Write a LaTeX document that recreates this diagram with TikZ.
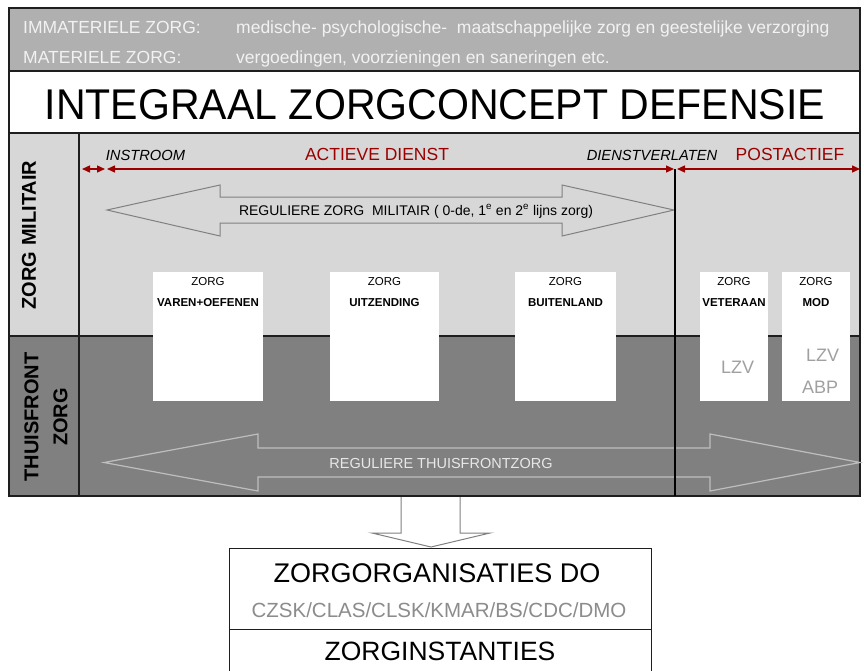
\documentclass[tikz,border=0pt]{standalone}
\usepackage{fontspec}
\setmainfont{Liberation Sans}
\newfontfamily\titlefont[FakeStretch=0.955]{Liberation Sans}
\usetikzlibrary{arrows.meta}
\definecolor{topgray}{RGB}{176,176,176}
\definecolor{lightbg}{RGB}{215,215,215}
\definecolor{darkbg}{RGB}{128,128,128}
\definecolor{framec}{RGB}{30,30,30}
\definecolor{darkred}{RGB}{155,0,0}
\definecolor{toptext}{RGB}{242,242,242}
\definecolor{arrowgray}{RGB}{128,128,128}
\definecolor{tfarrow}{RGB}{190,190,190}
\definecolor{tftext}{RGB}{232,232,232}
\definecolor{lzvgray}{RGB}{160,160,160}
\definecolor{orggray}{RGB}{140,140,140}
\newcommand\fsz[1]{\fontsize{#1}{#1}\selectfont}
\begin{document}
\begin{tikzpicture}[x=1pt,y=-1pt,
  lbl/.style={inner sep=0pt, anchor=base},
  lblw/.style={inner sep=0pt, anchor=base west},
  frameline/.style={draw=framec, line width=1.2pt},
  zorgbox/.style={fill=white, inner sep=0pt, anchor=north west, minimum height=129pt},
  phase/.style={draw=darkred, line width=1.4pt, {Triangle[length=8pt,width=7pt]}-{Triangle[length=8pt,width=7pt]}},
  blockarrow/.style={draw=arrowgray, line width=1pt},
  tfblock/.style={draw=tfarrow, line width=1.2pt},
  boxhead/.style={lbl, font=\fsz{11.5}},
  boxname/.style={lbl, font=\fsz{11.5}\bfseries},
  lzv/.style={lbl, font=\fsz{18}, text=lzvgray},
]
\useasboundingbox (0,0) rectangle (864,670);
\clip (0,0) rectangle (864,670);
\fill[white] (0,0) rectangle (864,670);

% bands
\fill[topgray] (9,8) rectangle (860,71);
\fill[white] (9,71) rectangle (860,133);
\fill[lightbg] (9,133) rectangle (860,336);
\fill[darkbg] (9,336) rectangle (860,496);

% frame lines
\draw[frameline] (9,8) rectangle (860,496);
\draw[frameline] (9,71) -- (860,71);
\draw[frameline] (9,133) -- (860,133);
\draw[frameline] (9,336) -- (860,336);
\draw[frameline] (79,133) -- (79,496);

% top band texts
\node[lblw, font=\fsz{17.5}, text=toptext] (imm) at (23,33) {IMMATERIELE ZORG:};
\node[lblw, font=\fsz{17.5}, text=toptext] (immtxt) at (236,33) {medische- psychologische-\ \ maatschappelijke zorg en geestelijke verzorging};
\node[lblw, font=\fsz{17.5}, text=toptext] (mat) at (23,63) {MATERIELE ZORG:};
\node[lblw, font=\fsz{17.5}, text=toptext] (mattxt) at (236,63) {vergoedingen, voorzieningen en saneringen etc.};

% title
\node[lbl, font=\titlefont\fsz{43}] (title) at (435,119) {INTEGRAAL ZORGCONCEPT DEFENSIE};

% left column
\node[inner sep=0pt, rotate=90, font=\fsz{20}\bfseries] (zm) at (29,235) {ZORG MILITAIR};
\node[inner sep=0pt, rotate=90, align=center, font=\fontsize{20}{29}\selectfont\bfseries] (tz) at (46,417) {THUISFRONT\\ZORG};

% phase labels
\node[lbl, font=\fsz{14.7}\itshape] (instroom) at (145.5,160.5) {INSTROOM};
\node[lbl, font=\fsz{17.5}, text=darkred] (actief) at (377,160.5) {ACTIEVE DIENST};
\node[lbl, font=\fsz{14.7}\itshape] (verlaten) at (652,160.5) {DIENSTVERLATEN};
\node[lbl, font=\fsz{17.5}, text=darkred] (post) at (790,160.5) {POSTACTIEF};

% phase arrows
\coordinate (p0) at (82,169);
\coordinate (p1) at (105,169);
\coordinate (p2) at (107,169);
\coordinate (p3) at (674,169);
\coordinate (p4) at (677,169);
\coordinate (p5) at (860,169);
\draw[phase] (p0) -- (p1);
\draw[phase] (p2) -- (p3);
\draw[phase] (p4) -- (p5);

% regular military care arrow
\draw[blockarrow] (107,210) -- (220,185) -- (220,197) -- (562,197) -- (562,185) -- (674,210) -- (562,236) -- (562,223) -- (220,223) -- (220,236) -- cycle;
\node[lbl, font=\fsz{14}] (regmil) at (416,215) {REGULIERE ZORG\ \ MILITAIR ( 0-de, 1\textsuperscript{e} en 2\textsuperscript{e} lijns zorg)};

% home front arrow
\draw[tfblock] (104,462.5) -- (258,434) -- (258,448) -- (710,448) -- (710,434) -- (860,462.5) -- (710,491) -- (710,477) -- (258,477) -- (258,491) -- cycle;
\node[lbl, font=\fsz{14.5}, text=tftext] (regtf) at (441,468) {REGULIERE THUISFRONTZORG};

% divider line
\coordinate (vtop) at (675,169);
\coordinate (vbot) at (675,496);
\draw[black, line width=2pt] (vtop) -- (vbot);

% care boxes
\node[zorgbox, minimum width=110pt] (varen) at (153,272) {};
\node[zorgbox, minimum width=109pt] (uitz) at (330,272) {};
\node[zorgbox, minimum width=101pt] (buit) at (515,272) {};
\node[zorgbox, minimum width=68pt] (vet) at (700,272) {};
\node[zorgbox, minimum width=68pt] (mod) at (782,272) {};

\node[boxhead] (varenz) at (208,285) {ZORG};
\node[boxname] (varenn) at (208,306.6) {VAREN+OEFENEN};
\node[boxhead] (uitzz) at (384.5,285) {ZORG};
\node[boxname] (uitzn) at (384.5,306.6) {UITZENDING};
\node[boxhead] (buitz) at (565.5,285) {ZORG};
\node[boxname] (buitn) at (565.5,306.6) {BUITENLAND};
\node[boxhead] (vetz) at (734,285) {ZORG};
\node[boxname] (vetn) at (734,306.6) {VETERAAN};
\node[boxhead] (modz) at (816,285) {ZORG};
\node[boxname] (modn) at (816,306.6) {MOD};
\node[lzv] (vetlzv) at (737.5,373) {LZV};
\node[lzv] (modlzv) at (822.5,361) {LZV};
\node[lzv] (modabp) at (820,393) {ABP};

% down arrow
\draw[blockarrow, fill=white] (401,497) -- (401,533) -- (372,533) -- (431,547) -- (490,533) -- (460,533) -- (460,497);

% bottom box
\draw[draw=framec, line width=1pt] (229,548) rectangle (651,690);
\draw[draw=framec, line width=1pt] (229,629) -- (651,629);
\node[lbl, font=\fsz{27}] (org) at (437,582.6) {ZORGORGANISATIES DO};
\node[lbl, font=\fsz{20.5}, text=orggray] (orglist) at (439,617) {CZSK/CLAS/CLSK/KMAR/BS/CDC/DMO};
\node[lbl, font=\fsz{26.5}] (inst) at (440,660.5) {ZORGINSTANTIES};
\end{tikzpicture}
\end{document}
